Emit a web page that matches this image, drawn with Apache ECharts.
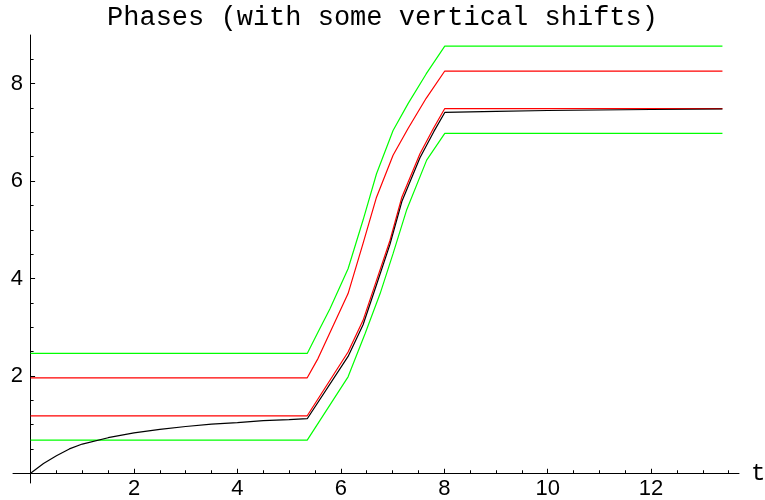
<!DOCTYPE html>
<html>
<head>
<meta charset="utf-8">
<script src="https://cdn.jsdelivr.net/npm/echarts@6/dist/echarts.min.js"></script>
<style>
  html, body { margin: 0; padding: 0; background: #fff; }
  #chart { width: 765px; height: 500px; }
</style>
</head>
<body>
<div id="chart"></div>
<script>
// curves: t values and phase values
const tGreenLow = [0, 5.35, 6.14, 6.47, 6.76, 7.01, 7.27, 7.66, 8.01, 13.38];
const vGreenLow = [0.68, 0.68, 1.98, 2.87, 3.69, 4.51, 5.40, 6.43, 6.98, 6.98];

const tGreenHigh = [0, 5.35, 5.56, 5.79, 6.14, 6.43, 6.69, 7.01, 7.30, 7.65, 8.01, 13.38];
const vGreenHigh = [2.46, 2.46, 2.90, 3.38, 4.20, 5.20, 6.15, 7.04, 7.59, 8.2, 8.77, 8.77];

const tRedLow = [0, 5.35, 6.14, 6.43, 6.69, 6.95, 7.18, 7.53, 7.8, 8.01, 13.38];
const vRedLow = [1.18, 1.18, 2.49, 3.14, 3.96, 4.78, 5.67, 6.56, 7.1, 7.49, 7.49];

const tRedHigh = [0, 5.35, 5.56, 6.14, 6.43, 6.69, 7.01, 7.30, 7.65, 8.01, 13.38];
const vRedHigh = [1.96, 1.96, 2.36, 3.69, 4.72, 5.67, 6.53, 7.08, 7.70, 8.26, 8.26];

const tBlack = [0, 0.25, 0.5, 0.75, 1, 1.5, 2, 2.5, 3, 3.5, 4, 4.5, 5, 5.35, 6.14, 6.43, 6.69, 6.95, 7.18, 7.53, 7.8, 8.01, 9, 10, 11, 12, 13.38];
const vBlack = [0, 0.2, 0.36, 0.5, 0.6, 0.73, 0.83, 0.9, 0.96, 1.01, 1.04, 1.08, 1.1, 1.12, 2.4, 3.05, 3.87, 4.7, 5.58, 6.48, 7.02, 7.41, 7.43, 7.45, 7.46, 7.47, 7.48];

const xMajorTicks = [2, 4, 6, 8, 10, 12];
const xMinorTicks = [0.5, 1, 1.5, 2, 2.5, 3, 3.5, 4, 4.5, 5, 5.5, 6, 6.5, 7, 7.5, 8, 8.5, 9, 9.5, 10, 10.5, 11, 11.5, 12, 12.5, 13, 13.5];
const yMajorTicks = [2, 4, 6, 8];
const yMinorTicks = [0.5, 1, 1.5, 2, 2.5, 3, 3.5, 4, 4.5, 5, 5.5, 6, 6.5, 7, 7.5, 8, 8.5];

const X_MIN = -0.34, X_MAX = 13.7;
const Y_MIN = -0.2, Y_MAX = 9.0;

const pairs = (ts, vs) => ts.map((t, i) => [t, vs[i]]);

const lineSeries = (data, color) => ({
    type: "line",
    data,
    showSymbol: false,
    symbol: "none",
    xAxisIndex: 0,
    yAxisIndex: 0,
    lineStyle: { color, width: 1.2 },
    emphasis: { disabled: true },
});

// axis line + inside ticks, sitting on the other axis' zero
const tickAxis = (min, max, pos, ticks, len, showLine) => ({
    type: "value",
    min,
    max,
    position: pos,
    axisLine: { show: showLine, onZero: true, onZeroAxisIndex: 0, lineStyle: { color: "#000", width: 1 } },
    axisTick: { show: true, inside: true, length: len, customValues: ticks, lineStyle: { color: "#000", width: 1 } },
    axisLabel: { show: false },
    splitLine: { show: false },
});

// labels only, placed from the grid edge
const labelAxis = (min, max, pos, labels, margin) => ({
    type: "value",
    min,
    max,
    position: pos,
    axisLine: { show: false, onZero: false },
    axisTick: { show: false },
    axisLabel: { show: true, customValues: labels, margin, color: "#000", fontFamily: "Liberation Sans", fontSize: 22 },
    splitLine: { show: false },
});

const chart = echarts.init(document.getElementById("chart"), null, { renderer: "canvas" });

const xMain = tickAxis(X_MIN, X_MAX, "bottom", xMinorTicks, 3, true);
xMain.name = "t";
xMain.nameLocation = "end";
xMain.nameGap = 12;
xMain.nameTextStyle = { color: "#000", fontFamily: "Liberation Mono", fontSize: 24, verticalAlign: "middle" };

chart.setOption({
    animation: false,
    backgroundColor: "#fff",
    title: {
        text: "Phases (with some vertical shifts)",
        left: "center",
        top: -1,
        textStyle: { color: "#000", fontFamily: "Liberation Mono", fontSize: 27, fontWeight: "normal" },
    },
    grid: { left: 13, top: 35, width: 726, height: 448, containLabel: false, outerBoundsMode: "none" },
    xAxis: [
        xMain,
        tickAxis(X_MIN, X_MAX, "bottom", xMajorTicks, 4.5, false),
        labelAxis(X_MIN, X_MAX, "bottom", xMajorTicks, -5),
    ],
    yAxis: [
        tickAxis(Y_MIN, Y_MAX, "left", yMinorTicks, 3, true),
        tickAxis(Y_MIN, Y_MAX, "left", yMajorTicks, 4.5, false),
        labelAxis(Y_MIN, Y_MAX, "left", yMajorTicks, -10),
    ],
    series: [
        lineSeries(pairs(tGreenLow, vGreenLow), "#00ff00"),
        lineSeries(pairs(tGreenHigh, vGreenHigh), "#00ff00"),
        lineSeries(pairs(tRedLow, vRedLow), "#ff0000"),
        lineSeries(pairs(tRedHigh, vRedHigh), "#ff0000"),
        lineSeries(pairs(tBlack, vBlack), "#000000"),
    ],
});
</script>
</body>
</html>
